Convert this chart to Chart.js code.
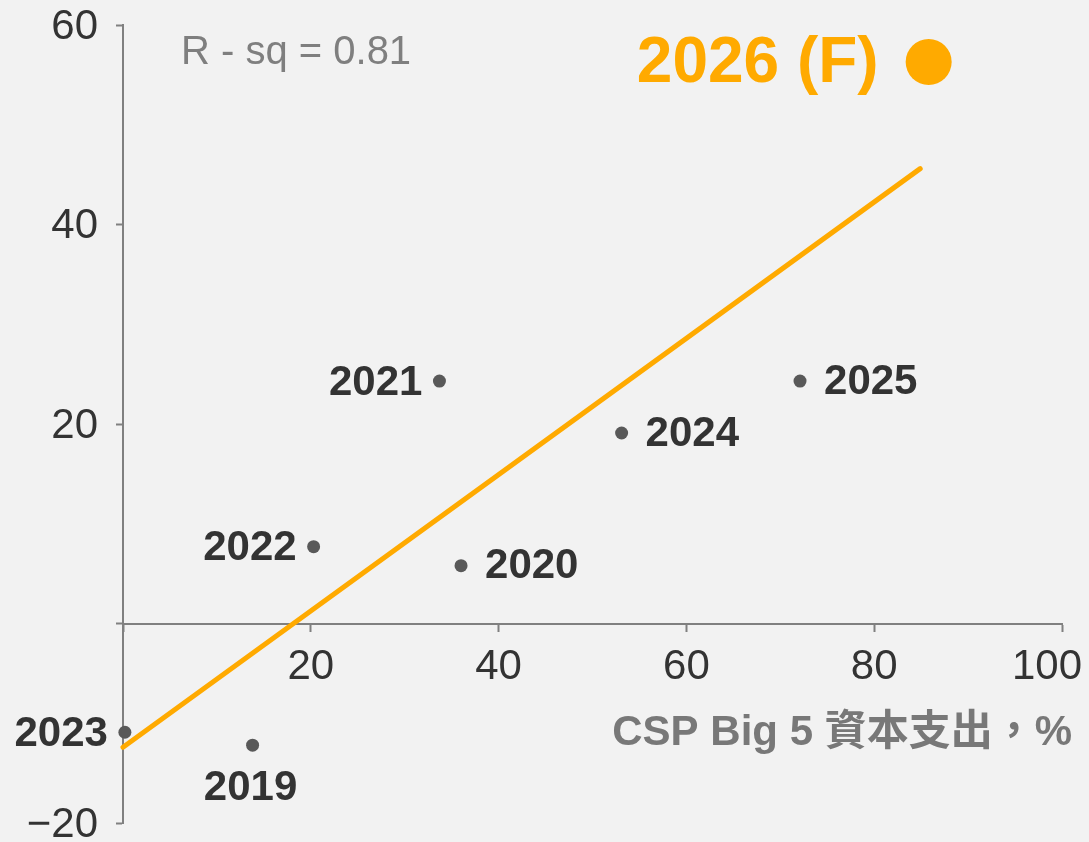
<!DOCTYPE html>
<html>
<head>
<meta charset="utf-8">
<script src="https://cdn.jsdelivr.net/npm/chart.js@4.4.1/dist/chart.umd.min.js"></script>
<style>
  html, body { margin: 0; padding: 0; background: #f2f2f2; }
  #wrap { width: 1089px; height: 842px; position: relative; }
</style>
</head>
<body>
<div id="wrap"><canvas id="capexChart"></canvas></div>
<script>
"use strict";

// ============================================
// DATA
// ============================================
var years = ["2019", "2020", "2021", "2022", "2023", "2024", "2025"];
var capexGrowth = [13.8, 36.0, 33.7, 20.3, 0.2, 53.1, 72.1];
var valueGrowth = [-12.2, 5.8, 24.3, 7.7, -10.9, 19.1, 24.3];

var forecastLabel = "2026 (F)";
var forecastX = [85.8];
var forecastY = [56.3];

var trendX = [0, 84.9];
var trendY = [-12.4, 45.6];

var xTicks = [0, 20, 40, 60, 80, 100];
var yTicks = [-20, 0, 20, 40, 60];
var rsqText = "R - sq = 0.81";
var xTitle = "CSP Big 5 資本支出，%";

// ============================================
// STYLE
// ============================================
var FONT = "'Liberation Sans', Arial, 'Noto Sans CJK TC', sans-serif";
var ORANGE = "#FFAA00";
var DOT = "#595959";
var AXIS = "#808080";
var TEXT = "#333333";

// where each year label sits relative to its dot
var labelSide = ["below", "right", "left", "left", "left", "right", "right"];

function toPoints(xs, ys) {
  return xs.map(function (x, i) {
    return { x: x, y: ys[i] };
  });
}

// ============================================
// LABEL PLUGIN
// ============================================
var labelPlugin = {
  id: "pointLabels",
  afterDatasetsDraw: function (chart) {
    var ctx = chart.ctx;
    var area = chart.chartArea;
    var xScale = chart.scales.x;
    var yScale = chart.scales.y;
    var zeroY = yScale.getPixelForValue(0);
    ctx.save();

    // x tick labels (last one kept inside the canvas)
    ctx.font = "42px " + FONT;
    ctx.fillStyle = TEXT;
    ctx.textBaseline = "middle";
    ctx.textAlign = "center";
    xTicks.forEach(function (v) {
      if (v === 0) return;
      var txt = String(v);
      var px = xScale.getPixelForValue(v);
      var w = ctx.measureText(txt).width;
      px = Math.min(px, chart.width - 7 - w / 2);
      ctx.fillText(txt, px, zeroY + 44);
    });

    // year labels
    ctx.font = "bold 42px " + FONT;
    ctx.fillStyle = TEXT;
    var meta = chart.getDatasetMeta(1);
    meta.data.forEach(function (pt, i) {
      var side = labelSide[i];
      if (side === "right") {
        ctx.textAlign = "left";
        ctx.fillText(years[i], pt.x + 24, pt.y + 1);
      } else if (side === "left") {
        ctx.textAlign = "right";
        ctx.fillText(years[i], pt.x - 17, pt.y + 2);
      } else {
        ctx.textAlign = "center";
        ctx.fillText(years[i], pt.x - 2, pt.y + 43);
      }
    });

    // forecast label
    var fpt = chart.getDatasetMeta(2).data[0];
    ctx.font = "bold 64px " + FONT;
    ctx.fillStyle = ORANGE;
    ctx.textAlign = "right";
    ctx.fillText(forecastLabel, fpt.x - 50, fpt.y + 2);

    // R-sq note
    ctx.font = "40px " + FONT;
    ctx.fillStyle = "#7f7f7f";
    ctx.textAlign = "left";
    ctx.fillText(rsqText, area.left + 58, area.top + 28);

    // x axis title
    ctx.font = "bold 42px " + FONT;
    ctx.fillStyle = "#787878";
    ctx.textAlign = "right";
    ctx.fillText(xTitle, area.right + 10, zeroY + 110);

    ctx.restore();
  },
};

// ============================================
// CHART
// ============================================
var ctx1 = document.getElementById("capexChart");
new Chart(ctx1, {
  type: "scatter",
  data: {
    datasets: [
      {
        label: "Trend",
        data: toPoints(trendX, trendY),
        showLine: true,
        borderColor: ORANGE,
        borderWidth: 5,
        borderCapStyle: "round",
        pointRadius: 0,
        clip: false,
      },
      {
        label: "Years",
        data: toPoints(capexGrowth, valueGrowth),
        backgroundColor: DOT,
        borderWidth: 0,
        pointRadius: 6.5,
        clip: false,
      },
      {
        label: forecastLabel,
        data: toPoints(forecastX, forecastY),
        backgroundColor: ORANGE,
        borderWidth: 0,
        pointRadius: 23,
        clip: false,
      },
    ],
  },
  options: {
    responsive: true,
    maintainAspectRatio: false,
    animation: false,
    layout: {
      autoPadding: false,
      padding: { left: 0, right: 27, top: 25, bottom: 19 },
    },
    plugins: {
      legend: { display: false },
      tooltip: { enabled: false },
    },
    scales: {
      x: {
        type: "linear",
        position: { y: 0 },
        min: 0,
        max: 100,
        afterBuildTicks: function (scale) {
          scale.ticks = xTicks.map(function (v) { return { value: v }; });
        },
        afterFit: function (scale) {
          scale.paddingLeft = 0;
          scale.paddingRight = 0;
          scale.paddingTop = 0;
          scale.paddingBottom = 0;
        },
        border: { display: true, color: AXIS, width: 2 },
        grid: {
          drawOnChartArea: false,
          drawTicks: true,
          tickLength: 7,
          tickColor: AXIS,
          tickWidth: 2,
        },
        ticks: { display: false },
      },
      y: {
        type: "linear",
        position: "left",
        min: -20,
        max: 60,
        afterBuildTicks: function (scale) {
          scale.ticks = yTicks.map(function (v) { return { value: v }; });
        },
        afterFit: function (scale) {
          scale.width = 123;
          scale.paddingTop = 0;
          scale.paddingBottom = 0;
        },
        border: { display: true, color: AXIS, width: 2 },
        grid: {
          drawOnChartArea: false,
          drawTicks: true,
          tickLength: 7,
          tickColor: AXIS,
          tickWidth: 2,
        },
        ticks: {
          color: TEXT,
          padding: 18,
          labelOffset: 2,
          font: { family: FONT, size: 42, lineHeight: 0.8 },
          callback: function (v) {
            if (v === 0) return "";
            return v < 0 ? "\u2212" + Math.abs(v) : v;
          },
        },
      },
    },
  },
  plugins: [labelPlugin],
});
</script>
</body>
</html>
